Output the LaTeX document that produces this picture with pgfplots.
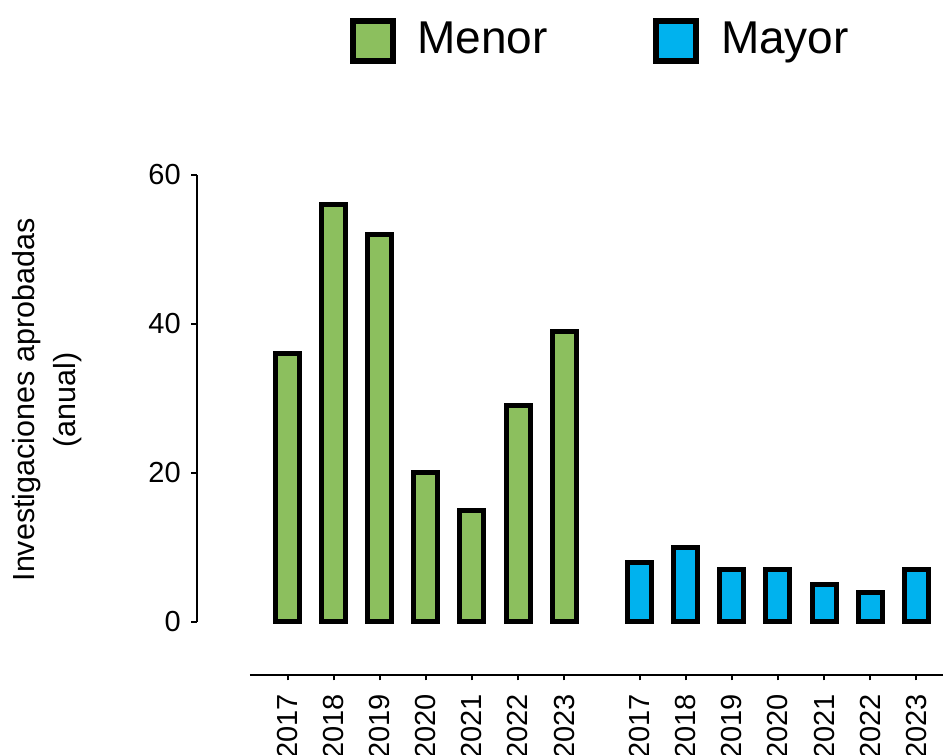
\documentclass[border=0pt]{standalone}
\usepackage{pgfplots}
\pgfplotsset{compat=1.18}
\usepackage{fontspec}
\setmainfont{Liberation Sans}
\definecolor{menor}{RGB}{140,191,94}
\definecolor{mayor}{RGB}{0,178,238}
\begin{document}
\begin{tikzpicture}[x=1pt,y=1pt]
\useasboundingbox (0,0) rectangle (943,755);
\begin{axis}[
  at={(250pt,133pt)}, anchor=south west,
  scale only axis, width=693pt, height=447pt,
  xmin=-0.814, xmax=14.22, ymin=0, ymax=60,
  clip=false,
  axis x line=bottom, axis y line=left,
  axis x line shift=53pt, axis y line shift=53.3pt,
  axis line style={-, line width=2pt, black},
  tick style={line width=2pt, black},
  tick align=outside,
  major tick length=5.5pt,
  ytick={0,20,40,60},
  xtick={0,1,2,3,4,5,6,7.64,8.64,9.64,10.64,11.64,12.64,13.64},
  xticklabels={2017,2018,2019,2020,2021,2022,2023,2017,2018,2019,2020,2021,2022,2023},
  tick label style={font=\fontsize{29}{34}\selectfont},
  x tick label style={rotate=90, anchor=east, xshift=-10pt},
  y tick label style={xshift=-7pt},
  /pgf/number format/assume math mode=true,
  ylabel={Investigaciones aprobadas\\(anual)},
  ylabel style={align=center, font=\fontsize{30.5}{41}\selectfont,
    at={(axis description cs:-0.2922,0.4966)}, anchor=center},
  legend columns=2,
  legend image code/.code={\draw[#1, line width=6pt, draw=black] (0pt,-23pt) rectangle (40pt,17pt);},
  legend style={at={(axis description cs:0.1436,1.3513)}, anchor=north west,
    draw=none, inner sep=0pt, outer sep=0pt,
    font=\fontsize{46}{50}\selectfont,
    nodes={inner sep=0pt},
    /tikz/every odd column/.append style={column sep=21.6pt},
    /tikz/every even column/.append style={column sep=106pt}},
]
\addplot[ybar, bar shift=0pt, bar width=24pt, fill=menor, draw=black, line width=5pt]
  coordinates {(0,36) (1,56) (2,52) (3,20) (4,15) (5,29) (6,39)};
\addlegendentry{Menor}
\addplot[ybar, bar shift=0pt, bar width=24pt, fill=mayor, draw=black, line width=5pt]
  coordinates {(7.64,8) (8.64,10) (9.64,7) (10.64,7) (11.64,5) (12.64,4) (13.64,7)};
\addlegendentry{Mayor}
\end{axis}
\end{tikzpicture}
\end{document}
